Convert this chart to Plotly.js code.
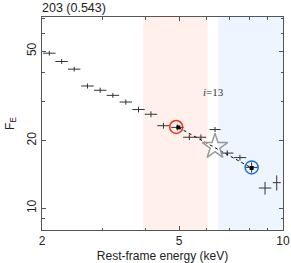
<!DOCTYPE html>
<html>
<head>
<meta charset="utf-8">
<script src="https://cdn.plot.ly/plotly-3.0.1.min.js"></script>
<style>
html,body{margin:0;padding:0;background:#fff;}
#chart{width:291px;height:263px;}
</style>
</head>
<body>
<div id="chart"></div>
<script>
// ---- data ----
const energy   = [2.10, 2.28, 2.48, 2.71, 2.95, 3.21, 3.50, 3.81, 4.14, 4.50, 4.94, 5.35, 5.78, 6.35, 6.89, 7.50, 8.11, 8.87, 9.59];
const flux     = [49.0, 45.0, 41.6, 35.0, 33.5, 31.8, 29.7, 27.5, 26.2, 23.3, 22.9, 20.7, 20.7, 22.4, 17.6, 16.8, 15.2, 12.3, 13.0];
const eErrMinus= [0.085,0.093,0.100,0.110,0.120,0.130,0.142,0.155,0.168,0.182,0.200,0.217,0.200,0.230,0.280,0.300,0.330,0.360,0.250];
const eErrPlus = [0.089,0.096,0.105,0.115,0.125,0.136,0.148,0.161,0.175,0.190,0.210,0.226,0.210,0.240,0.290,0.320,0.340,0.380,0.260];
const fluxErr  = [1.2, 1.1, 1.0, 0.9, 0.9, 0.8, 0.8, 0.8, 0.8, 0.7, 0.7, 0.6, 0.6, 0.6, 0.5, 0.5, 0.8, 0.8, 1.0];

const lineE    = [4.97, 8.11];     // dotted segment endpoints
const lineF    = [22.9, 15.1];
const redE = [4.90], redF = [23.0];
const blueE = [8.11], blueF = [15.2];
const starE = [6.35], starF = [18.8];

const bandRed  = [3.93, 6.05];
const bandBlue = [6.49, 10];

const xRange = [2, 10];
const yRange = [8, 71];

const xTicks = [2, 5, 10], xTickText = ['2', '5', '10'];
const xMinor = [3, 4, 6, 7, 8, 9];
const yTicks = [10, 20, 50], yTickText = ['10', '20', '50'];
const yMinor = [8, 9, 30, 40, 60, 70];

const titleText = '203 (0.543)';
const labelText = '<i>i</i>=13';
const labelPos = [6.3, 33];

function band(b, color) {
  return {
    x: [b[0], b[0], b[1], b[1], b[0]],
    y: [yRange[0], yRange[1], yRange[1], yRange[0], yRange[0]],
    type: 'scatter', mode: 'lines', fill: 'toself', fillcolor: color,
    line: {width: 0, color: color}, hoverinfo: 'skip'
  };
}

// ---- traces ----
const traces = [
  band(bandRed, '#fff0eb'),
  band(bandBlue, '#eff5fe'),
  {
    x: energy, y: flux, type: 'scatter', mode: 'markers',
    marker: {size: 0.1, color: 'rgba(0,0,0,0)'},
    error_x: {type: 'data', symmetric: false, array: eErrPlus, arrayminus: eErrMinus,
              color: '#333', thickness: 1, width: 0},
    error_y: {type: 'data', array: fluxErr, color: '#333', thickness: 1, width: 0},
    hoverinfo: 'skip'
  },
  {
    x: lineE, y: lineF, type: 'scatter', mode: 'lines+markers',
    line: {color: '#000', width: 1, dash: 'dot'},
    marker: {symbol: 'square', size: 4, color: '#000'}
  },
  {
    x: starE, y: starF, type: 'scatter', mode: 'markers',
    marker: {symbol: 'star-open', size: 19, color: '#999', line: {color: '#999', width: 1.5}}
  },
  {
    x: redE, y: redF, type: 'scatter', mode: 'markers',
    marker: {symbol: 'circle-open', size: 13, color: '#e8321e', line: {color: '#e8321e', width: 1.5}}
  },
  {
    x: blueE, y: blueF, type: 'scatter', mode: 'markers',
    marker: {symbol: 'circle-open', size: 13, color: '#1f6fd0', line: {color: '#1f6fd0', width: 1.5}}
  }
];

const axisCommon = {
  type: 'log', showgrid: false, zeroline: false,
  showline: true, linecolor: '#555', linewidth: 1, mirror: 'ticks',
  ticks: 'inside', ticklen: 4, tickcolor: '#555', tickwidth: 1,
  tickfont: {family: 'Liberation Sans, Arial, sans-serif', size: 12, color: '#222'},
  tickmode: 'array'
};

const layout = {
  width: 291, height: 263,
  margin: {l: 42, r: 8, t: 17, b: 33},
  paper_bgcolor: '#fff', plot_bgcolor: '#fff',
  showlegend: false,
  title: {text: titleText, x: 0, xref: 'paper', xanchor: 'left', y: 0.97, yanchor: 'middle',
          font: {family: 'Liberation Sans, Arial, sans-serif', size: 12.5, color: '#222'}},
  xaxis: Object.assign({}, axisCommon, {
    range: [Math.log10(xRange[0]), Math.log10(xRange[1])],
    tickvals: xTicks, ticktext: xTickText,
    minor: {tickmode: 'array', tickvals: xMinor, ticks: 'inside', ticklen: 2.5, tickcolor: '#555'},
    title: {text: 'Rest-frame energy (keV)', standoff: 4,
            font: {family: 'Liberation Sans, Arial, sans-serif', size: 12, color: '#222'}}
  }),
  yaxis: Object.assign({}, axisCommon, {
    range: [Math.log10(yRange[0]), Math.log10(yRange[1])],
    tickvals: yTicks, ticktext: yTickText, tickangle: -90,
    minor: {tickmode: 'array', tickvals: yMinor, ticks: 'inside', ticklen: 2.5, tickcolor: '#555'},
    title: {text: 'F<sub>E</sub>', standoff: 8,
            font: {family: 'Liberation Sans, Arial, sans-serif', size: 12, color: '#222'}}
  }),
  annotations: [
    {x: Math.log10(labelPos[0]), y: Math.log10(labelPos[1]), xref: 'x', yref: 'y',
     text: labelText, showarrow: false,
     font: {family: 'Liberation Serif, Times New Roman, serif', size: 11, color: '#333'}}
  ]
};

Plotly.newPlot('chart', traces, layout, {staticPlot: true, displayModeBar: false});
</script>
</body>
</html>
